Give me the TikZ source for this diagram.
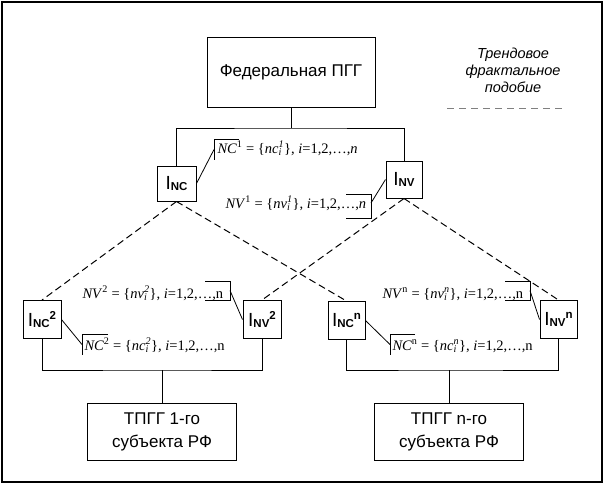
\documentclass[tikz,border=0pt]{standalone}
\usepackage{fontspec}
\setmainfont{Liberation Sans}
\newfontfamily\tms{Liberation Serif}
\newcommand\ilab[2]{{\fontsize{19}{19}\selectfont I}\raisebox{-1.5pt}{\fontsize{11.5}{11.5}\selectfont\bfseries #1}\raisebox{7pt}{\fontsize{11.5}{11.5}\selectfont\bfseries #2}}
\newcommand\frm[5]{{\tms\fontsize{14.5}{14.5}\selectfont\textit{#1}\textsuperscript{#2} = \{\textit{#3}\rlap{\textsubscript{\textit{i}}}\textsuperscript{\textit{#4}}\}, \textit{i}=1,2,…,#5}}
\begin{document}
\begin{tikzpicture}[x=1pt,y=-1pt,line width=1pt,
  box/.style={draw,inner sep=0pt,align=center},
  ibox/.style={box,minimum width=38pt,minimum height=38pt},
  txtbox/.style={box,minimum width=149pt,minimum height=57pt,font=\fontsize{17}{23}\selectfont},
  lvl/.style={dash pattern=on 7pt off 4pt},
  frml/.style={inner sep=0pt,anchor=base west},
  brk/.style={line width=0.8pt},
  call/.style={line width=0.8pt}]
\useasboundingbox (0,0) rectangle (605,485);
\draw[line width=1.2pt] (2,2) rectangle (602,482);
% main boxes
\node[box,minimum width=168pt,minimum height=70pt,font=\fontsize{17}{17}\selectfont] (fed) at (291,72) {Федеральная ПГГ};
\node[ibox,minimum width=39pt,minimum height=35pt] (inc) at (176.5,183.5) {\ilab{NC}{}};
\node[ibox,minimum width=36pt,minimum height=37pt] (inv) at (404,179.5) {\ilab{NV}{}};
\node[ibox] (inc2) at (42,319.5) {\ilab{NC}{2}};
\node[ibox] (inv2) at (262,319.5) {\ilab{NV}{2}};
\node[ibox,minimum width=37pt] (incn) at (346.5,320.5) {\ilab{NC}{n}};
\node[ibox,minimum width=37pt] (invn) at (558.5,319.5) {\ilab{NV}{n}};
\node[txtbox] (t1) at (162,431.5) {ТПГГ 1-го\\субъекта РФ};
\node[txtbox] (tn) at (449,431.5) {ТПГГ n-го\\субъекта РФ};
% legend
\node[align=center,font=\fontsize{14.5}{17}\selectfont\itshape] (leg) at (513,70) {Трендовое\\фрактальное\\подобие};
\coordinate (l1) at (447,108);
\coordinate (l2) at (563,108);
\draw[gray,dash pattern=on 7pt off 5pt] (l1) -- (l2);
% buses
\coordinate (bus1) at (291,128);
\coordinate (bus2) at (162,370);
\coordinate (busn) at (449,370);
\draw (fed) -- (bus1);
\draw (inc.north) |- (bus1) -| (inv.north);
\draw (inc2.south) |- (bus2) -| (inv2.south);
\draw (bus2) -- (t1.north);
\draw (incn.south) |- (busn) -| (invn.south);
\draw (busn) -- (tn.north);
% dashed fractal links
\draw[lvl] (inc.south) -- (inc2.north);
\draw[lvl] (inc.south) -- (incn.north);
\draw[lvl] (inv.south) -- (inv2.north);
\draw[lvl] (inv.south) -- (invn.north);
% annotations level 1
\node[frml] (f1) at (217,153) {\frm{NC}{1}{nc}{1}{\textit{n}}};
\draw[brk] (239,139) -- (214,139) -- (214,160);
\coordinate (c1) at (214,149.5);
\draw[call] (inc.east) -- (c1);
\node[frml] (f2) at (225,208) {\frm{NV}{1}{nv}{1}{\textit{n}}};
\draw[brk] (346,194) -- (371,194) -- (371,218) -- (346,218);
\coordinate (c2) at (371,203);
\draw[call] (inv.west) -- (c2);
% level 2 left
\node[frml] (f3) at (82,298) {\frm{NV}{2}{nv}{2}{n}};
\draw[brk] (205,281) -- (230,281) -- (230,300) -- (205,300);
\coordinate (c3) at (230,290.5);
\draw[call] (inv2.west) -- (c3);
\node[frml] (f4) at (84,350) {\frm{NC}{2}{nc}{2}{n}};
\draw[brk] (108,334) -- (82,334) -- (82,355);
\coordinate (c4) at (82,344.5);
\draw[call] (inc2.east) -- (c4);
% level 2 right
\node[frml] (f5) at (382,298) {\frm{NV}{n}{nv}{n}{n}};
\draw[brk] (505,281) -- (530,281) -- (530,300) -- (505,300);
\coordinate (c5) at (530,290.5);
\draw[call] (invn.west) -- (c5);
\node[frml] (f6) at (392,350) {\frm{NC}{n}{nc}{n}{n}};
\draw[brk] (415,334) -- (390,334) -- (390,355);
\coordinate (c6) at (390,344.5);
\draw[call] (incn.east) -- (c6);
\end{tikzpicture}
\end{document}
